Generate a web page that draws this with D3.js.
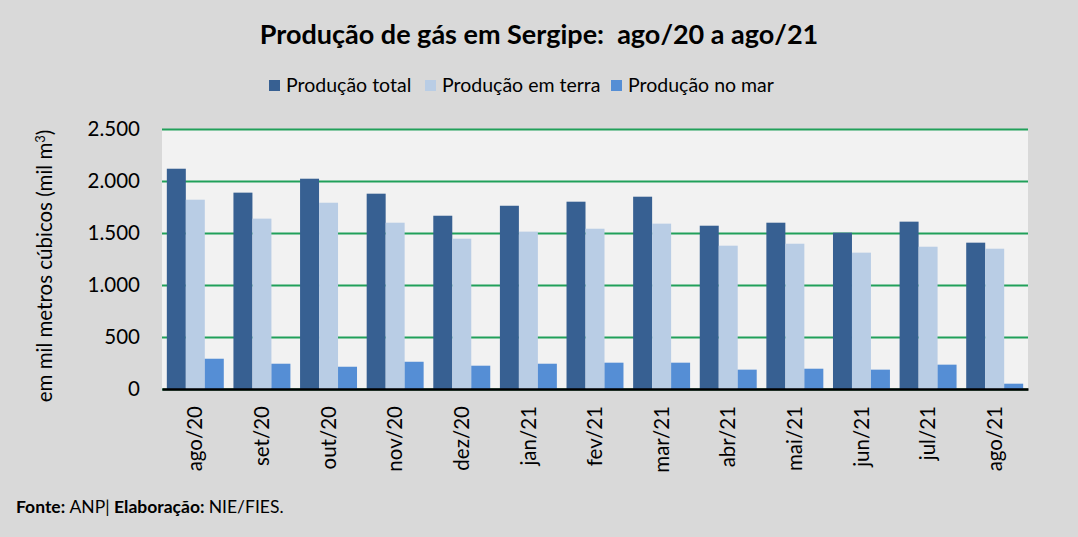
<!DOCTYPE html>
<html lang="pt">
<head>
<meta charset="utf-8">
<title>Produção de gás em Sergipe</title>
<script src="https://cdn.jsdelivr.net/npm/d3@7"></script>
<style>
  html, body { margin: 0; padding: 0; background: #d9d9d9; }
  svg { display: block; font-family: Lato, "Open Sans", sans-serif; }
</style>
</head>
<body>
<script>
// dados (mil m3)
var meses = ["ago/20","set/20","out/20","nov/20","dez/20","jan/21","fev/21","mar/21","abr/21","mai/21","jun/21","jul/21","ago/21"];
var total = [2118, 1888, 2022, 1878, 1666, 1762, 1801, 1849, 1570, 1599, 1503, 1609, 1407];
var terra = [1820, 1638, 1791, 1599, 1445, 1513, 1541, 1590, 1378, 1397, 1311, 1368, 1349];
var mar   = [291, 243, 214, 262, 224, 243, 253, 253, 186, 195, 186, 234, 51];
var series = ["Produção total", "Produção em terra", "Produção no mar"];
var yTicks = [0, 500, 1000, 1500, 2000, 2500];

var cores = ["#376092", "#b9cde5", "#558ed5"];
var width = 1078, height = 537;
var margin = {top: 129, right: 50, bottom: 148, left: 162};
var iw = width - margin.left - margin.right;
var ih = height - margin.top - margin.bottom;

var svg = d3.select("body").append("svg")
  .attr("width", width)
  .attr("height", height);

svg.append("rect").attr("width", width).attr("height", height).attr("fill", "#d9d9d9");

// titulo
svg.append("text")
  .attr("x", 539).attr("y", 44)
  .attr("text-anchor", "middle")
  .attr("font-size", 27).attr("font-weight", "bold").attr("fill", "#000")
  .attr("xml:space", "preserve")
  .text("Produção de gás em Sergipe:  ago/20 a ago/21");

// legenda
var legX = [269, 425, 611];
var leg = svg.append("g").selectAll("g")
  .data(series)
  .enter().append("g")
  .attr("transform", function(d, i) { return "translate(" + legX[i] + ",80)"; });
leg.append("rect").attr("width", 11).attr("height", 11).attr("fill", function(d, i) { return cores[i]; });
leg.append("text").attr("x", 17).attr("y", 12).attr("font-size", 19.5).attr("fill", "#000").text(function(d) { return d; });

var g = svg.append("g").attr("transform", "translate(" + margin.left + "," + margin.top + ")");

g.append("rect").attr("width", iw).attr("height", ih).attr("fill", "#f2f2f2");

var x0 = d3.scaleBand().domain(meses).range([0, iw]).paddingInner(0.145).paddingOuter(0.0725);
var x1 = d3.scaleBand().domain(d3.range(3)).range([0, x0.bandwidth()]);
var y = d3.scaleLinear().domain([0, 2500]).range([ih, 0]);

var fmt = function(v) { return d3.format(",")(v).replace(/,/g, "."); };

// grade
var yAxis = g.append("g")
  .call(d3.axisLeft(y).tickValues(yTicks).tickSize(-iw).tickFormat(fmt).tickPadding(22));
yAxis.select(".domain").remove();
yAxis.selectAll(".tick line").attr("stroke", "#21a05a").attr("stroke-width", 2.2);
yAxis.selectAll(".tick text").attr("font-size", 20.5).attr("fill", "#000")
  .attr("font-family", "Lato, 'Open Sans', sans-serif");

// barras
var dados = meses.map(function(m, i) { return {mes: m, v: [total[i], terra[i], mar[i]]}; });
var grupos = g.append("g").selectAll("g")
  .data(dados)
  .enter().append("g")
  .attr("transform", function(d) { return "translate(" + x0(d.mes) + ",0)"; });
grupos.selectAll("rect")
  .data(function(d) { return d.v; })
  .enter().append("rect")
  .attr("x", function(d, i) { return x1(i); })
  .attr("y", function(d) { return y(d); })
  .attr("width", x1.bandwidth())
  .attr("height", function(d) { return ih - y(d); })
  .attr("fill", function(d, i) { return cores[i]; });

// eixo x
var xAxis = g.append("g")
  .attr("transform", "translate(0," + ih + ")")
  .call(d3.axisBottom(x0).tickSize(0).tickPadding(0));
xAxis.select(".domain").attr("stroke", "#000").attr("stroke-width", 2.5);
xAxis.selectAll(".tick text")
  .attr("font-size", 20.5).attr("fill", "#000")
  .attr("font-family", "Lato, 'Open Sans', sans-serif")
  .attr("text-anchor", "end")
  .attr("transform", "rotate(-90)")
  .attr("x", -17).attr("y", 0).attr("dy", "0.35em");

// titulo do eixo y
svg.append("text")
  .attr("transform", "translate(52,266) rotate(-90)")
  .attr("text-anchor", "middle")
  .attr("font-size", 20.5).attr("fill", "#000")
  .html("em mil metros cúbicos (mil m<tspan dy='-7' font-size='13'>3</tspan><tspan dy='7'>)</tspan>");

// fonte
var fonte = svg.append("text").attr("x", 16).attr("y", 513).attr("font-size", 17.5).attr("fill", "#000");
fonte.append("tspan").attr("font-weight", "bold").text("Fonte: ");
fonte.append("tspan").text("ANP| ");
fonte.append("tspan").attr("font-weight", "bold").text("Elaboração: ");
fonte.append("tspan").text("NIE/FIES.");
</script>
</body>
</html>
